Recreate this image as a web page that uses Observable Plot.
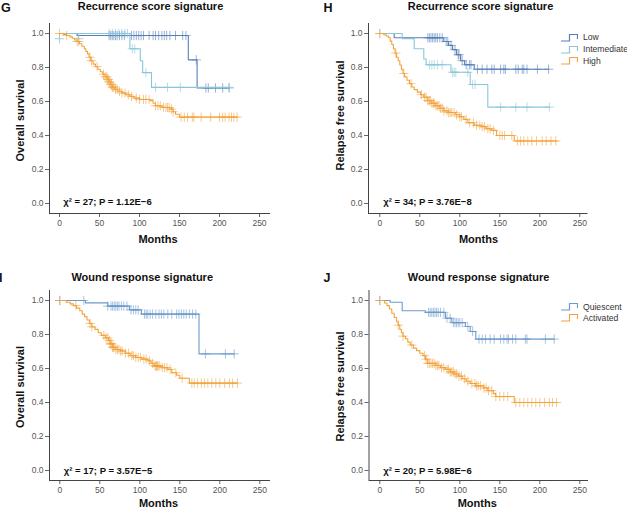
<!DOCTYPE html>
<html><head><meta charset="utf-8">
<script src="https://cdn.jsdelivr.net/npm/d3@7"></script>
<script src="https://cdn.jsdelivr.net/npm/@observablehq/plot@0.6"></script>
<style>
body{margin:0;background:#fff;overflow:hidden;font-family:"Liberation Sans",Arial,Helvetica,sans-serif}
#wrap{position:relative;width:627px;height:508px;overflow:hidden}
.panel{position:absolute}
.lg{position:absolute;display:flex;align-items:center;font-size:8.6px;color:#333;height:11px;white-space:nowrap}
.lg svg{margin-right:5px;flex:none}
</style></head><body><div id="wrap"></div>
<script>
// ---- shared axis ticks ----
const monthTicks = [0, 50, 100, 150, 200, 250];
const survTicks = [0, 0.2, 0.4, 0.6, 0.8, 1.0];

// ---- G: Recurrence score signature, overall survival ----
const G_low_t = [0, 22, 161, 172];
const G_low_s = [1, 0.988, 0.845, 0.68];
const G_low_end = 212;
const G_low_cens = [62,64,66,68,70,72,75,78,81,90,93,96,99,102,105,112,117,120,124,128,131,134,138,145,154,158,171,183,186,195,204,212];
const G_mid_t = [0, 88, 101, 104, 115];
const G_mid_s = [1, 0.91, 0.84, 0.77, 0.683];
const G_mid_end = 212;
const G_mid_cens = [62,66,70,74,78,82,85,91,94,108,120,135,151,212];
const G_mid_extra_t = [0, 24];
const G_mid_extra_s = [0.969, 0.969];
const G_high_t = [0,5,9,13,16,19,22,25,28,31,33,35,37,39,42,45,48,51,54,57,60,62,64,66,69,73,78,83,88,93,100,113,117,120,128,138,142,145,150];
const G_high_s = [1,0.995,0.988,0.98,0.972,0.962,0.953,0.94,0.925,0.91,0.895,0.88,0.86,0.84,0.82,0.805,0.79,0.775,0.76,0.745,0.73,0.715,0.70,0.685,0.672,0.66,0.65,0.64,0.63,0.62,0.612,0.605,0.59,0.575,0.565,0.555,0.54,0.525,0.508];
const G_high_end = 222;
const G_high_cens = [0,9,22,24,38,40,47,55,57,59,60,61,62,63,64,65,66,67,68,70,72,75,78,82,86,90,96,100,105,108,112,120,123,126,130,133,135,137,140,142,152,156,160,166,168,177,189,200,204,207,212,215,218,222];

// ---- H: Recurrence score signature, relapse free survival ----
const H_low_t = [0, 18, 80, 86, 91, 96, 101, 106, 118];
const H_low_s = [1, 0.975, 0.953, 0.93, 0.905, 0.875, 0.84, 0.816, 0.79];
const H_low_end = 211;
const H_low_cens = [60,62,64,66,68,70,72,75,78,83,85,89,94,98,99,103,108,112,114,122,128,134,140,143,151,155,157,170,173,178,180,184,197,211];
const H_mid_t = [0, 28, 43, 55, 58, 89, 113, 135];
const H_mid_s = [1, 0.97, 0.91, 0.85, 0.816, 0.772, 0.70, 0.567];
const H_mid_end = 212;
const H_mid_cens = [0,62,65,68,72,78,91,93,95,110,116,119,151,170,184,212];
const H_high_t = [0,5,8,11,13,15,17,19,21,23,25,27,29,31,34,37,40,43,47,51,55,60,65,70,75,80,86,95,100,105,110,118,127,133,140,146,168];
const H_high_s = [1,0.993,0.985,0.975,0.955,0.935,0.91,0.885,0.86,0.84,0.815,0.79,0.765,0.745,0.725,0.705,0.685,0.67,0.655,0.64,0.625,0.605,0.59,0.575,0.56,0.545,0.535,0.522,0.51,0.495,0.475,0.46,0.452,0.44,0.43,0.40,0.368];
const H_high_end = 222;
const H_high_cens = [0,20,30,39,52,56,58,60,62,63,65,67,68,70,72,74,76,78,80,84,86,88,90,93,96,100,102,108,112,117,121,125,128,131,135,138,142,150,153,156,165,172,176,180,185,190,196,203,208,214,220];

// ---- I: Wound response signature, overall survival ----
const I_qui_t = [0, 32, 60, 87, 102, 174];
const I_qui_s = [1, 0.986, 0.967, 0.945, 0.92, 0.686];
const I_qui_end = 218;
const I_qui_cens = [0,30,60,64,66,68,70,72,74,77,80,84,89,92,95,98,106,108,110,113,116,120,124,127,130,135,140,146,149,152,155,158,162,166,170,182,207,218];
const I_act_t = [0,8,13,17,21,25,28,31,34,37,40,44,48,52,57,61,63,66,70,76,82,88,95,102,110,114,118,128,135,140,146,150,162];
const I_act_s = [1,0.99,0.98,0.97,0.955,0.94,0.92,0.905,0.885,0.865,0.845,0.83,0.81,0.795,0.78,0.765,0.745,0.725,0.712,0.703,0.69,0.676,0.665,0.655,0.645,0.63,0.615,0.605,0.595,0.575,0.56,0.543,0.514];
const I_act_end = 222;
const I_act_cens = [0,20,38,40,55,58,60,62,63,64,65,66,67,68,70,72,74,76,78,82,86,90,92,95,98,101,105,108,112,116,119,120,121,122,123,125,128,131,134,138,145,153,165,168,172,177,181,185,190,195,200,206,212,216,222];

// ---- J: Wound response signature, relapse free survival ----
const J_qui_t = [0, 13, 28, 57, 82, 90, 107, 113, 120];
const J_qui_s = [1, 0.99, 0.94, 0.93, 0.896, 0.87, 0.847, 0.818, 0.773];
const J_qui_end = 218;
const J_qui_cens = [0,61,63,65,67,69,71,73,76,80,84,88,92,94,96,98,100,103,110,116,124,128,132,138,143,151,155,159,161,166,170,182,184,207,218];
const J_act_t = [0,6,9,12,15,18,21,23,25,27,29,32,35,38,42,46,50,54,57,60,70,76,82,88,93,98,103,108,113,120,130,135,142,145,168];
const J_act_s = [1,0.985,0.97,0.95,0.925,0.9,0.875,0.855,0.83,0.81,0.79,0.775,0.755,0.738,0.72,0.705,0.69,0.675,0.655,0.63,0.618,0.605,0.595,0.58,0.568,0.555,0.54,0.525,0.512,0.498,0.485,0.47,0.452,0.435,0.40];
const J_act_end = 222;
const J_act_cens = [0,23,29,40,56,58,60,62,64,66,68,70,72,74,77,80,84,86,88,90,92,94,96,99,102,106,110,115,119,121,123,126,130,133,136,140,145,150,155,160,170,175,180,185,190,195,200,206,212,216,221];

// ---- labels ----
const titles = ["Recurrence score signature", "Recurrence score signature", "Wound response signature", "Wound response signature"];
const letters = ["G", "H", "I", "J"];
const yLabels = ["Overall survival", "Relapse free survival", "Overall survival", "Relapse free survival"];
const xLabel = "Months";
const stats = ["χ² = 27; P = 1.12E−6", "χ² = 34; P = 3.76E−8", "χ² = 17; P = 3.57E−5", "χ² = 20; P = 5.98E−6"];
const H_legend = ["Low", "Intemediate", "High"];
const J_legend = ["Quiescent", "Activated"];

const LOW = "#5680b8", MID = "#8ac6d9", HIGH = "#f2a33d", QUI = "#6c9acb";

function curvePts(t, s, end) {
  const p = t.map((x, i) => ({t: x, s: s[i]}));
  p.push({t: end, s: s[s.length - 1]});
  return p;
}
function censPts(t, s, cens) {
  return cens.map(c => { let v = s[0]; for (let i = 0; i < t.length; i++) if (t[i] <= c) v = s[i]; return {t: c, s: v}; });
}
function seriesMarks(t, s, end, cens, color) {
  return [
    Plot.line(curvePts(t, s, end), {x: "t", y: "s", curve: "step-after", stroke: color, strokeWidth: 1.1}),
    Plot.dot(censPts(t, s, cens), {x: "t", y: "s", symbol: "plus", r: 3.1, stroke: color, strokeWidth: 0.8, strokeOpacity: 0.75})
  ];
}

const wrap = document.getElementById("wrap");
const MT = 23, YB = 213, PPU = 170, K = 0.8;

function makePanel(p) {
  const xmin = -(p.x0 - p.m) / K, xmax = (p.R - p.x0) / K;
  const ymin = -10 / PPU, ymax = 1 + 10 / PPU;
  const at = (px, py) => ({frameAnchor: "top-left", dx: px - p.m, dy: py - MT});
  const txt = (s, px, py, o) => Plot.text([s], {text: d => d, ...at(px, py), lineAnchor: "middle", fill: "#111", ...o});
  const chart = Plot.plot({
    width: p.width, height: p.height,
    marginLeft: p.m, marginRight: p.width - p.R, marginTop: MT, marginBottom: p.height - YB,
    x: {domain: [xmin, xmax]},
    y: {domain: [ymin, ymax]},
    style: {fontFamily: "'Liberation Sans', Arial, sans-serif", fontSize: "8.5px", color: "#555", background: "transparent", overflow: "visible"},
    marks: [
      Plot.axisX(monthTicks, {tickSize: 4, tickPadding: 2, label: null, stroke: "#666"}),
      Plot.axisY(survTicks, {tickSize: 4, tickPadding: 2, label: null, tickFormat: d3.format(".1f"), stroke: "#666"}),
      Plot.ruleX([xmin], {stroke: "#444", strokeWidth: 1}),
      Plot.ruleY([ymin], {stroke: "#444", strokeWidth: 1}),
      ...p.series,
      txt(p.title, p.titleX, p.titleY, {fontSize: 11, fontWeight: "bold", textAnchor: "middle"}),
      txt(p.letter, p.letterX, p.letterY, {fontSize: 12.5, fontWeight: "bold", textAnchor: "start"}),
      txt(xLabel, p.monthsX, p.monthsY, {fontSize: 11, fontWeight: "bold", textAnchor: "middle"}),
      txt(p.ylabel, p.ylabX, p.ylabY, {fontSize: 11, fontWeight: "bold", textAnchor: "middle", rotate: -90}),
      txt(p.stat, p.statX, p.statY, {fontSize: 9.5, fontWeight: "bold", textAnchor: "start"})
    ]
  });
  const d = document.createElement("div");
  d.className = "panel";
  d.style.left = p.left + "px"; d.style.top = p.top + "px";
  d.appendChild(chart);
  wrap.appendChild(d);
}

function legend(labels, colors, left, y0, step) {
  labels.forEach((lab, i) => {
    const row = document.createElement("div");
    row.className = "lg";
    row.style.left = left + "px";
    row.style.top = (y0 + i * step - 5.5) + "px";
    row.innerHTML = `<svg width="17" height="9"><path d="M0,8 H8.5 V1.5 H16.5 V6" fill="none" stroke="${colors[i]}" stroke-width="1.2"/></svg><span>${lab}</span>`;
    wrap.appendChild(row);
  });
}

makePanel({left: 0, top: 0, width: 310, height: 250, m: 49, x0: 59, R: 270,
  title: titles[0], titleX: 150, titleY: 5.5, letter: letters[0], letterX: 0.5, letterY: 7.5,
  monthsX: 157.5, monthsY: 239, ylabel: yLabels[0], ylabX: 20, ylabY: 120,
  stat: stats[0], statX: 62.7, statY: 201.7,
  series: [
    ...seriesMarks(G_low_t, G_low_s, G_low_end, G_low_cens, LOW),
    ...seriesMarks(G_mid_t, G_mid_s, G_mid_end, G_mid_cens, MID),
    Plot.dot(G_mid_extra_t.map((t, i) => ({t, s: G_mid_extra_s[i]})), {x: "t", y: "s", symbol: "plus", r: 3.1, stroke: MID, strokeWidth: 0.8}),
    ...seriesMarks(G_high_t, G_high_s, G_high_end, G_high_cens, HIGH)
  ]});

makePanel({left: 310, top: 0, width: 317, height: 250, m: 58, x0: 69.3, R: 277.5,
  title: titles[1], titleX: 170, titleY: 5.5, letter: letters[1], letterX: 13, letterY: 7.5,
  monthsX: 168, monthsY: 239, ylabel: yLabels[1], ylabX: 30, ylabY: 115,
  stat: stats[1], statX: 72.7, statY: 201.7,
  series: [
    ...seriesMarks(H_low_t, H_low_s, H_low_end, H_low_cens, LOW),
    ...seriesMarks(H_mid_t, H_mid_s, H_mid_end, H_mid_cens, MID),
    ...seriesMarks(H_high_t, H_high_s, H_high_end, H_high_cens, HIGH)
  ]});

makePanel({left: 0, top: 267, width: 310, height: 241, m: 49, x0: 59.3, R: 270,
  title: titles[2], titleX: 141.7, titleY: 9.7, letter: letters[2], letterX: -1.5, letterY: 10.5,
  monthsX: 158, monthsY: 235.5, ylabel: yLabels[2], ylabX: 20, ylabY: 119.5,
  stat: stats[2], statX: 63.3, statY: 203.7,
  series: [
    ...seriesMarks(I_qui_t, I_qui_s, I_qui_end, I_qui_cens, QUI),
    ...seriesMarks(I_act_t, I_act_s, I_act_end, I_act_cens, HIGH)
  ]});

makePanel({left: 310, top: 267, width: 317, height: 241, m: 58.5, x0: 69.3, R: 278,
  title: titles[3], titleX: 168, titleY: 9.7, letter: letters[3], letterX: 13, letterY: 10.5,
  monthsX: 166.7, monthsY: 235.5, ylabel: yLabels[3], ylabX: 30, ylabY: 119,
  stat: stats[3], statX: 72.7, statY: 203,
  series: [
    ...seriesMarks(J_qui_t, J_qui_s, J_qui_end, J_qui_cens, QUI),
    ...seriesMarks(J_act_t, J_act_s, J_act_end, J_act_cens, HIGH)
  ]});

legend(H_legend, [LOW, MID, HIGH], 561, 37.3, 11.7);
legend(J_legend, [QUI, HIGH], 561, 306.7, 11);
</script></body></html>
